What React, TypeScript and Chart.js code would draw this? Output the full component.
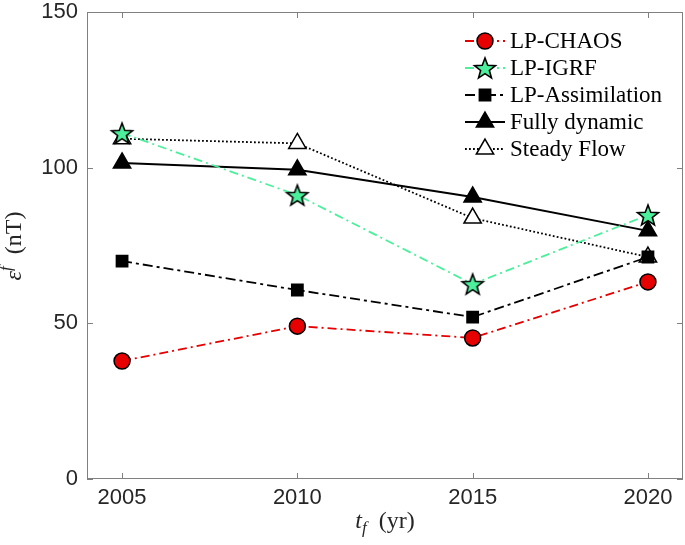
import React, { useEffect, useRef } from 'react';
import { Chart, registerables } from 'chart.js';
import { drawPoint } from 'chart.js/helpers';

Chart.register(...registerables);

const years = [2005, 2010, 2015, 2020];
const lpChaos = [37.9, 49.1, 45.3, 63.3];
const lpIgrf = [111.1, 91.2, 62.6, 84.8];
const lpAssim = [70.0, 60.7, 52.0, 71.3];
const fullyDynamic = [101.5, 99.3, 90.6, 79.7];
const steadyFlow = [109.3, 107.8, 83.8, 71.3];
const xTicks = [2005, 2010, 2015, 2020];
const yTicks = [0, 50, 100, 150];
const seriesNames = ['LP-CHAOS', 'LP-IGRF', 'LP-Assimilation', 'Fully dynamic', 'Steady Flow'];

const RED = '#e60000';
const GREEN = '#4cf09c';
const DASHDOT = [9, 4, 2, 4];

function makeStar(r: number, fill: string): HTMLCanvasElement {
  const size = Math.ceil(r * 2 + 4);
  const c = document.createElement('canvas');
  c.width = size;
  c.height = size;
  const g = c.getContext('2d')!;
  const cx = size / 2;
  const cy = size / 2 + 1;
  g.beginPath();
  for (let i = 0; i < 10; i++) {
    const rad = i % 2 === 0 ? r : r * 0.42;
    const a = -Math.PI / 2 + (i * Math.PI) / 5;
    const x = cx + rad * Math.cos(a);
    const y = cy + rad * Math.sin(a);
    if (i === 0) g.moveTo(x, y);
    else g.lineTo(x, y);
  }
  g.closePath();
  g.fillStyle = fill;
  g.fill();
  g.lineWidth = 1.6;
  g.lineJoin = 'miter';
  g.strokeStyle = '#000';
  g.stroke();
  return c;
}

const zeroPad = (s: any) => {
  s.paddingTop = 0;
  s.paddingBottom = 0;
  s.paddingLeft = 0;
  s.paddingRight = 0;
};

export default function App() {
  const ref = useRef<HTMLCanvasElement>(null);

  useEffect(() => {
    const star = makeStar(11, GREEN);
    const toXY = (vals: number[]) => years.map((x, i) => ({ x, y: vals[i] }));

    const styles = [
      { color: RED, dash: DASHDOT, pointStyle: 'circle' as any, radius: 8, fill: RED, width: 1.8 },
      { color: GREEN, dash: DASHDOT, pointStyle: star as any, radius: 11, fill: GREEN, width: 1.8 },
      { color: '#000', dash: [10, 4, 3, 4], pointStyle: 'rect' as any, radius: 8, fill: '#000', width: 1.8 },
      { color: '#000', dash: [] as number[], pointStyle: 'triangle' as any, radius: 10, fill: '#000', width: 2 },
      { color: '#000', dash: [1.8, 2.2], pointStyle: 'triangle' as any, radius: 10, fill: '#fff', width: 1.8 },
    ];
    const data = [lpChaos, lpIgrf, lpAssim, fullyDynamic, steadyFlow];

    const decor = {
      id: 'decor',
      beforeDatasetsDraw(chart: any) {
        const { ctx, chartArea: a, scales } = chart;
        ctx.save();
        ctx.strokeStyle = '#808080';
        ctx.lineWidth = 1;
        ctx.strokeRect(a.left + 0.5, a.top + 0.5, a.right - a.left - 1, a.bottom - a.top - 1);
        const tl = 6;
        ctx.beginPath();
        xTicks.forEach((v) => {
          const x = Math.round(scales.x.getPixelForValue(v)) + 0.5;
          ctx.moveTo(x, a.bottom);
          ctx.lineTo(x, a.bottom - tl);
          ctx.moveTo(x, a.top);
          ctx.lineTo(x, a.top + tl);
        });
        yTicks.forEach((v) => {
          const y = Math.round(scales.y.getPixelForValue(v)) + 0.5;
          ctx.moveTo(a.left, y);
          ctx.lineTo(a.left + tl, y);
          ctx.moveTo(a.right, y);
          ctx.lineTo(a.right - tl, y);
        });
        ctx.stroke();
        ctx.restore();
      },
      afterDraw(chart: any) {
        const { ctx, chartArea: a } = chart;
        ctx.save();
        // Legend
        const rows = [41, 68, 95, 122, 149];
        const lx0 = 465, lx1 = 505, mx = 485, tx = 510;
        seriesNames.forEach((name, i) => {
          const s = styles[i];
          const y = rows[i];
          ctx.save();
          ctx.strokeStyle = s.color;
          ctx.lineWidth = s.width;
          ctx.setLineDash(s.dash);
          ctx.beginPath();
          ctx.moveTo(lx0, y);
          ctx.lineTo(lx1, y);
          ctx.stroke();
          ctx.setLineDash([]);
          ctx.fillStyle = s.fill;
          ctx.strokeStyle = '#000';
          ctx.lineWidth = 1.5;
          drawPoint(ctx, { pointStyle: s.pointStyle, radius: s.radius, rotation: 0, borderWidth: 1.5 } as any, mx, y);
          ctx.restore();
          ctx.fillStyle = '#000';
          ctx.font = '23px "Liberation Serif"';
          ctx.textBaseline = 'middle';
          ctx.textAlign = 'left';
          ctx.fillText(name, tx, y + 1);
        });

        const big = '24px "Liberation Serif"';
        const bigIt = 'italic 24px "Liberation Serif"';
        const smallIt = 'italic 17px "Liberation Serif"';
        const drawPieces = (pieces: { t: string; f: string; dy: number }[], cx: number, baseY: number) => {
          let total = 0;
          pieces.forEach((p) => {
            ctx.font = p.f;
            total += ctx.measureText(p.t).width;
          });
          let x = cx - total / 2;
          ctx.textAlign = 'left';
          ctx.textBaseline = 'alphabetic';
          pieces.forEach((p) => {
            ctx.font = p.f;
            ctx.fillText(p.t, x, baseY + p.dy);
            x += ctx.measureText(p.t).width;
          });
        };
        ctx.fillStyle = '#262626';
        // X title: t_f (yr)
        drawPieces(
          [
            { t: 't', f: bigIt, dy: 0 },
            { t: 'f', f: smallIt, dy: 5 },
            { t: '  (yr)', f: big, dy: 0 },
          ],
          (a.left + a.right) / 2,
          528
        );
        // Y title: ε^f (nT)
        ctx.save();
        ctx.translate(21, 246);
        ctx.rotate(-Math.PI / 2);
        drawPieces(
          [
            { t: 'ε', f: bigIt, dy: 0 },
            { t: 'f', f: smallIt, dy: -10 },
            { t: '  (nT)', f: big, dy: 0 },
          ],
          0,
          0
        );
        ctx.restore();
        ctx.restore();
      },
    };

    const chart = new Chart(ref.current!, {
      type: 'line',
      data: {
        datasets: data.map((vals, i) => ({
          label: seriesNames[i],
          data: toXY(vals),
          borderColor: styles[i].color,
          borderWidth: styles[i].width,
          borderDash: styles[i].dash,
          pointStyle: styles[i].pointStyle,
          pointRadius: styles[i].radius,
          pointHoverRadius: styles[i].radius,
          pointBackgroundColor: styles[i].fill,
          pointBorderColor: '#000',
          pointBorderWidth: 1.5,
          fill: false,
          tension: 0,
          clip: false as any,
        })),
      },
      options: {
        animation: false,
        responsive: false,
        maintainAspectRatio: false,
        layout: { autoPadding: false, padding: { top: 12, right: 2, left: 0, bottom: 0 } },
        plugins: { legend: { display: false }, tooltip: { enabled: false } },
        scales: {
          x: {
            type: 'linear',
            min: 2004,
            max: 2021,
            grid: { display: false, drawTicks: false },
            border: { display: false },
            afterBuildTicks: (s: any) => {
              s.ticks = xTicks.map((v) => ({ value: v }));
            },
            afterFit: (s: any) => {
              s.height = 545 - 479;
              zeroPad(s);
            },
            ticks: {
              color: '#262626',
              font: { family: '"Liberation Sans", Arial, sans-serif', size: 22 },
              padding: 6,
              maxRotation: 0,
              callback: (v: any) => String(v),
            },
          },
          y: {
            type: 'linear',
            min: 0,
            max: 150,
            grid: { display: false, drawTicks: false },
            border: { display: false },
            afterBuildTicks: (s: any) => {
              s.ticks = yTicks.map((v) => ({ value: v }));
            },
            afterFit: (s: any) => {
              s.width = 87;
              zeroPad(s);
            },
            ticks: {
              color: '#262626',
              font: { family: '"Liberation Sans", Arial, sans-serif', size: 22 },
              padding: 9,
              callback: (v: any) => String(v),
            },
          },
        },
      },
      plugins: [decor],
    });
    return () => chart.destroy();
  }, []);

  return (
    <div style={{ position: 'absolute', left: 0, top: 0, width: 685, height: 545, background: '#fff' }}>
      <canvas ref={ref} width={685} height={545} style={{ display: 'block' }} />
    </div>
  );
}
